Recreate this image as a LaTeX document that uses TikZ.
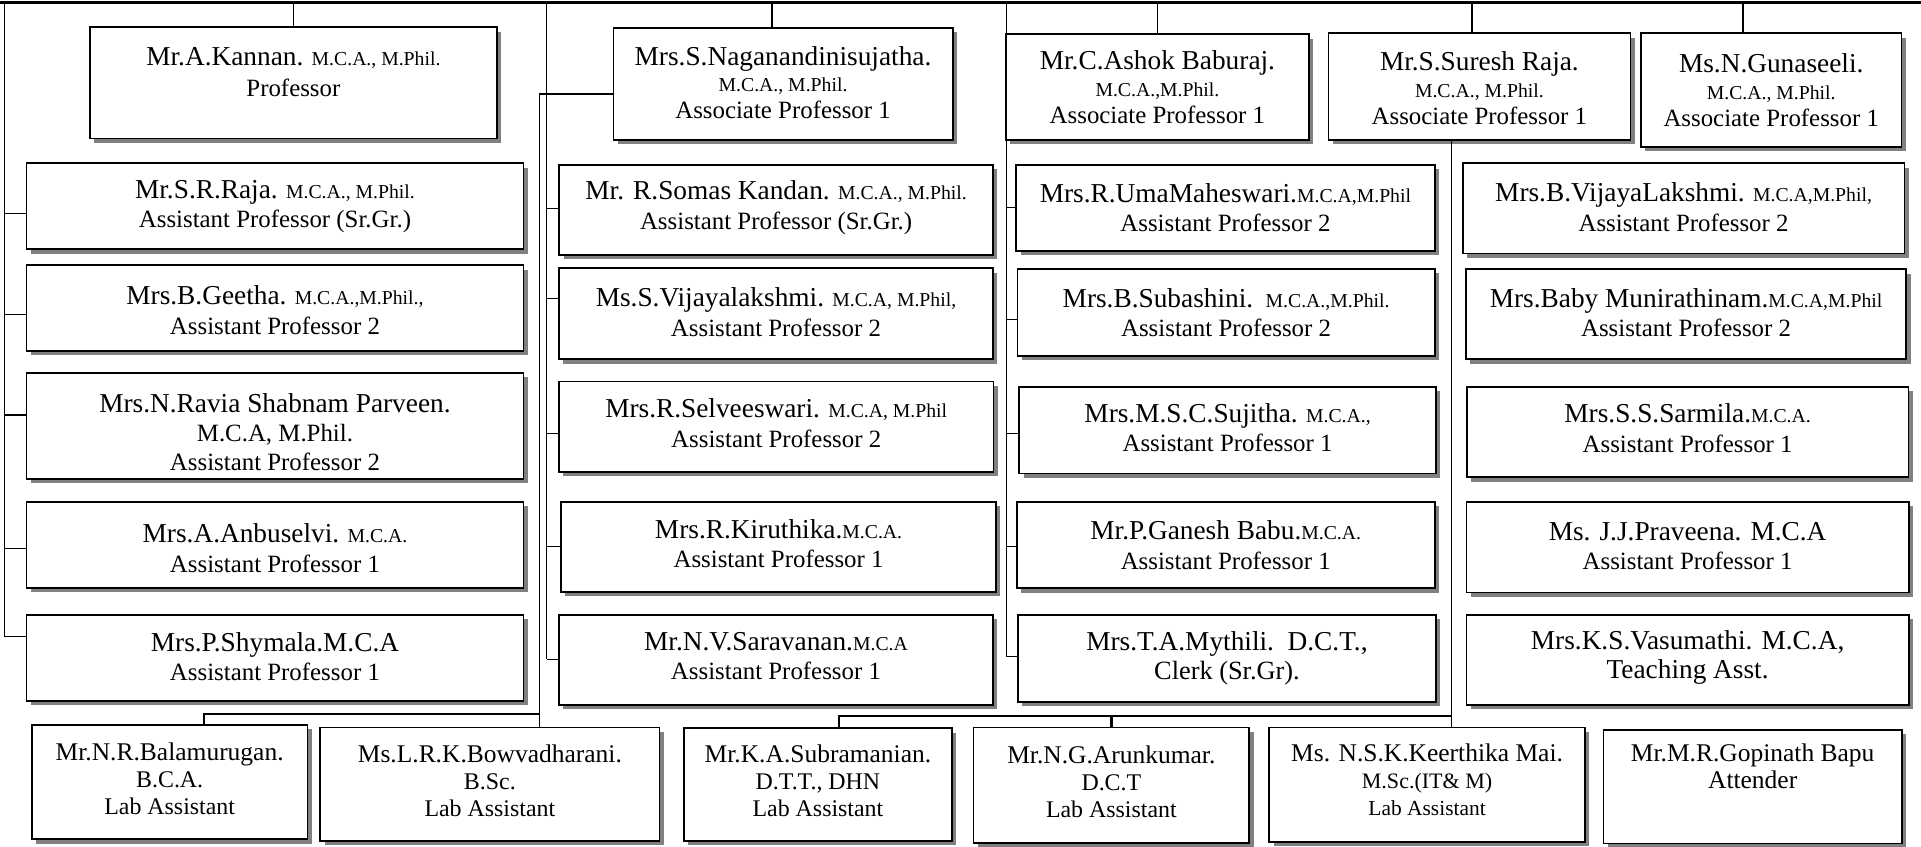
\documentclass[tikz,border=0pt]{standalone}
\usepackage{fontspec}
\setmainfont{Liberation Serif}
\usetikzlibrary{shadows,calc}
\newcommand\nm{\fontsize{22.3}{24}\selectfont}
\newcommand\ql{\fontsize{16.1}{24}\selectfont}
\newcommand\bn{\fontsize{20.8}{22}\selectfont}
\tikzset{
  pbox/.style={draw, line width=1.4pt, fill=white, inner sep=0pt, outer sep=0pt,
    drop shadow={shadow xshift=3.5pt, shadow yshift=-3.5pt, fill=black!50, opacity=1}},
  ptext/.style={align=center, inner sep=0pt},
  conn/.style={line width=1pt},
  thickconn/.style={line width=2pt},
  topline/.style={line width=2.5pt},
  fA/.style={font=\fontsize{20.3}{24}\selectfont},
  fB/.style={font=\fontsize{20.3}{22}\selectfont},
  fC/.style={font=\fontsize{19.5}{22}\selectfont},
}
\newcommand\pbox[8]{%
  \node[pbox, minimum width={(#4-#2)*1pt}, minimum height={(#5-#3)*1pt}] (#1) at ({(#2+#4)/2},{(#3+#5)/2}) {};
  \node[ptext, #7] (#1-t) at ([yshift=#6pt]#1.center) {#8};
}
\newcommand\tick[3]{%
  \path ([yshift=#3pt]#1.west) coordinate (#1-c);
  \draw[conn] (#1-c) -- (#1-c -| #2);
}
\begin{document}
\begin{tikzpicture}[x=1pt,y=-1pt]
\useasboundingbox (0,0) rectangle (1568,691);
% ---------- column 1
\pbox{kannan}{73.5}{22.3}{405.5}{113}{8.5}{font=\fontsize{20.3}{25.5}\selectfont}{{\nm Mr.A.Kannan.} {\ql M.C.A., M.Phil.}\\Professor}
\pbox{raja}{21.6}{133.3}{427.3}{203.5}{0}{fA}{{\nm Mr.S.R.Raja.} {\ql M.C.A., M.Phil.}\\Assistant Professor (Sr.Gr.)}
\pbox{geetha}{21.6}{216.5}{427.3}{286.5}{-1.5}{fA}{{\nm Mrs.B.Geetha.} {\ql M.C.A.,M.Phil.,}\\Assistant Professor 2}
\pbox{ravia}{21.6}{304.6}{427.3}{391}{-5}{fA}{{\nm Mrs.N.Ravia Shabnam Parveen.}\\M.C.A, M.Phil.\\Assistant Professor 2}
\pbox{anbu}{21.6}{409.5}{427.3}{480}{-2.5}{fA}{{\nm Mrs.A.Anbuselvi.} {\ql M.C.A.}\\Assistant Professor 1}
\pbox{shymala}{21.6}{502}{427.3}{572}{1}{fA}{{\nm Mrs.P.Shymala.M.C.A}\\Assistant Professor 1}
% ---------- column 2
\pbox{nagan}{500.7}{22.6}{777.6}{114.3}{1}{fB}{{\nm Mrs.S.Naganandinisujatha.}\\{\ql M.C.A., M.Phil.}\\Associate Professor 1}
\pbox{somas}{456.5}{134.7}{810.5}{208}{2}{fA}{{\nm Mr. R.Somas Kandan.} {\ql M.C.A., M.Phil.}\\Assistant Professor (Sr.Gr.)}
\pbox{vijaya}{456.2}{219}{810.6}{293.3}{1.5}{fA}{{\nm Ms.S.Vijayalakshmi.} {\ql M.C.A, M.Phil,}\\Assistant Professor 2}
\pbox{selvee}{456.2}{311.5}{811}{385}{3}{fA}{{\nm Mrs.R.Selveeswari.} {\ql M.C.A, M.Phil}\\Assistant Professor 2}
\pbox{kiru}{458}{409.5}{813}{483}{2.5}{fA}{{\nm Mrs.R.Kiruthika.}{\ql M.C.A.}\\Assistant Professor 1}
\pbox{sarav}{456.2}{502}{810.6}{575.5}{3}{fA}{{\nm Mr.N.V.Saravanan.}{\ql M.C.A}\\Assistant Professor 1}
% ---------- column 3
\pbox{ashok}{821}{28}{1068.5}{114}{0}{fB}{{\nm Mr.C.Ashok Baburaj.}\\{\ql M.C.A.,M.Phil.}\\Associate Professor 1}
\pbox{uma}{829.5}{134.7}{1171}{204.6}{0}{fA}{{\nm Mrs.R.UmaMaheswari.}{\ql M.C.A,M.Phil}\\Assistant Professor 2}
\pbox{subash}{830.6}{219.7}{1171}{290.6}{0}{fA}{{\nm Mrs.B.Subashini.}\ \ {\ql M.C.A.,M.Phil.}\\Assistant Professor 2}
\pbox{sujitha}{832}{315.6}{1172}{386.4}{2}{fA}{{\nm Mrs.M.S.C.Sujitha.} {\ql M.C.A.,}\\Assistant Professor 1}
\pbox{ganesh}{830}{409.5}{1171}{480.2}{0}{fA}{{\nm Mr.P.Ganesh Babu.}{\ql M.C.A.}\\Assistant Professor 1}
\pbox{mythili}{831}{502}{1172}{572.7}{0}{fA}{{\nm Mrs.T.A.Mythili.\ \ D.C.T.,}\\{\fontsize{21.5}{24}\selectfont Clerk (Sr.Gr).}}
% ---------- column 4
\pbox{suresh}{1084.3}{27.2}{1330.8}{114.3}{-1}{fB}{{\nm Mr.S.Suresh Raja.}\\{\ql M.C.A., M.Phil.}\\Associate Professor 1}
% ---------- column 5
\pbox{gunas}{1339.5}{27.2}{1552}{119.7}{0}{fB}{{\nm Ms.N.Gunaseeli.}\\{\ql M.C.A., M.Phil.}\\Associate Professor 1}
\pbox{bvijaya}{1194}{133.3}{1554.4}{206.8}{1}{fA}{{\nm Mrs.B.VijayaLakshmi.} {\ql M.C.A,M.Phil,}\\Assistant Professor 2}
\pbox{baby}{1196.5}{219.8}{1556}{293.3}{1.5}{fA}{{\nm Mrs.Baby Munirathinam.}{\ql M.C.A,M.Phil}\\Assistant Professor 2}
\pbox{sarmila}{1197.3}{315.6}{1557.7}{389.6}{3}{fA}{{\nm Mrs.S.S.Sarmila.}{\ql M.C.A.}\\Assistant Professor 1}
\pbox{praveena}{1197}{409.5}{1558}{483.5}{1}{fA}{{\nm Ms. J.J.Praveena. M.C.A}\\Assistant Professor 1}
\pbox{vasu}{1197}{502}{1558}{575.5}{2}{fA}{{\nm Mrs.K.S.Vasumathi. M.C.A,}\\{\nm Teaching Asst.}}
% ---------- bottom row
\pbox{bala}{26}{591.8}{251}{685}{3}{fC}{{\bn Mr.N.R.Balamurugan.}\\B.C.A.\\Lab Assistant}
\pbox{bowva}{261.4}{593.7}{538.3}{686.2}{3}{fC}{{\bn Ms.L.R.K.Bowvadharani.}\\B.Sc.\\Lab Assistant}
\pbox{subram}{558.3}{594.5}{777}{686.5}{3}{fC}{{\bn Mr.K.A.Subramanian.}\\D.T.T., DHN\\Lab Assistant}
\pbox{arun}{794.6}{593.7}{1019.7}{687.8}{3}{fC}{{\bn Mr.N.G.Arunkumar.}\\D.C.T\\Lab Assistant}
\pbox{keer}{1036}{593.7}{1293.7}{687}{4}{fC}{{\bn Ms. N.S.K.Keerthika Mai.}\\{\fontsize{18}{22}\selectfont M.Sc.(IT\& M)}\\{\fontsize{17.5}{22}\selectfont Lab Assistant}}
\pbox{gopi}{1308.8}{596}{1552.4}{688.4}{17}{font=\fontsize{20.8}{22}\selectfont}{Mr.M.R.Gopinath Bapu\\Attender}
% ---------- connectors
\coordinate (top) at (0,2);
\coordinate (topR) at (1568,2);
\coordinate (busL) at (3.5,2);
\coordinate (busA) at (446.3,2);
\coordinate (busB) at (440.3,76.7);
\coordinate (busC) at (821.8,2);
\coordinate (busD) at (1185,2);
\coordinate (jBL) at (166.4,583);
\coordinate (jD) at (685,584.5);
\path ([xshift=-9pt]nagan.north) coordinate (naganT);
\path ([xshift=-6pt]suresh.north) coordinate (sureshT);
\path ([xshift=-23pt]gunas.north) coordinate (gunasT);
% top drops
\draw[conn] (kannan.north) -- (kannan.north |- top);
\draw[conn] (naganT) -- (naganT |- top);
\draw[conn] (ashok.north) -- (ashok.north |- top);
\draw[conn] (sureshT) -- (sureshT |- top);
\draw[conn] (gunasT) -- (gunasT |- top);
% ticks
\tick{raja}{busL}{-5.6}
\tick{geetha}{busL}{-5.5}
\tick{ravia}{busL}{9}
\tick{anbu}{busL}{-2.75}
\tick{shymala}{busL}{17.3}
\draw[conn] (busL) -- (busL |- shymala-c);
\tick{somas}{busA}{1.35}
\tick{vijaya}{busA}{12.65}
\tick{selvee}{busA}{-5.75}
\tick{kiru}{busA}{0}
\tick{sarav}{busA}{0.75}
\draw[conn] (busA) -- (busA |- sarav-c);
\tick{uma}{busC}{0}
\tick{subash}{busC}{-5.85}
\tick{sujitha}{busC}{-3}
\tick{ganesh}{busC}{-1}
\tick{mythili}{busC}{1.35}
\draw[conn] (busC) -- (busC |- mythili-c);
% Naganandini branch to lab assistants
\draw[thickconn] (nagan.west |- busB) -- (busB);
\draw[conn] (busB) -- (busB |- bowva.north);
\draw[thickconn] (busB |- jBL) -- (jBL) -- (jBL |- bala.north);
% Suresh branch to lab assistants
\draw[conn] (busD |- suresh.south) -- (busD |- keer.north);
\draw[thickconn] (busD |- jD) -- (jD) -- (jD |- subram.north);
\draw[thickconn] (arun.north |- jD) -- (arun.north);
% top bar
\draw[topline] (top) -- (topR);
\end{tikzpicture}
\end{document}
